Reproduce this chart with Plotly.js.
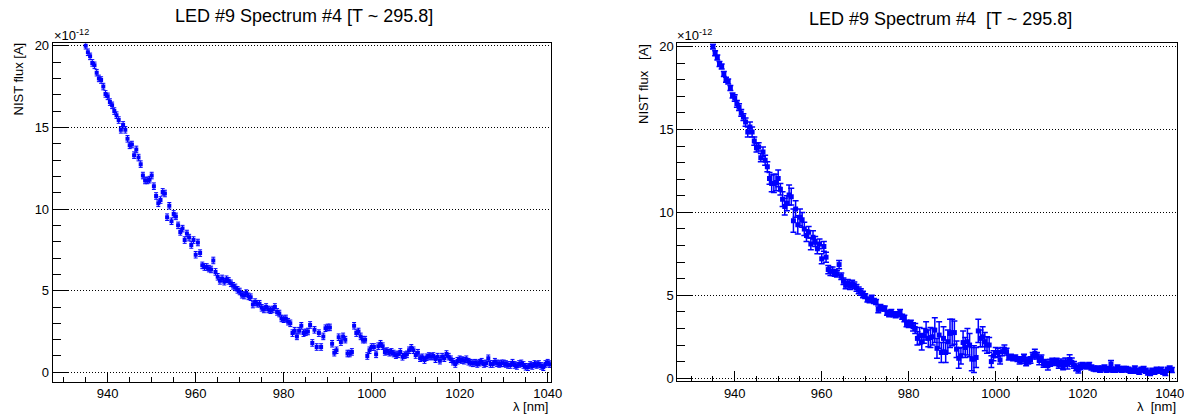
<!DOCTYPE html>
<html>
<head>
<meta charset="utf-8">
<script src="https://cdn.plot.ly/plotly-3.0.1.min.js"></script>
<style>html,body{margin:0;padding:0;background:#fff;}#chart{width:1184px;height:415px;}</style>
</head>
<body>
<div id="chart"></div>
<script>
// wavelength grid [nm]
const wavelength = [
 935.0,935.5,936.0,936.5,937.0,937.5,938.0,938.5,939.0,939.5,
 940.0,940.5,941.0,941.5,942.0,942.5,943.0,943.5,944.0,944.5,
 945.0,945.5,946.0,946.5,947.0,947.5,948.0,948.5,949.0,949.5,
 950.0,950.5,951.0,951.5,952.0,952.5,953.0,953.5,954.0,954.5,
 955.0,955.5,956.0,956.5,957.0,957.5,958.0,958.5,959.0,959.5,
 960.0,960.5,961.0,961.5,962.0,962.5,963.0,963.5,964.0,964.5,
 965.0,965.5,966.0,966.5,967.0,967.5,968.0,968.5,969.0,969.5,
 970.0,970.5,971.0,971.5,972.0,972.5,973.0,973.5,974.0,974.5,
 975.0,975.5,976.0,976.5,977.0,977.5,978.0,978.5,979.0,979.5,
 980.0,980.5,981.0,981.5,982.0,982.5,983.0,983.5,984.0,984.5,
 985.0,985.5,986.0,986.5,987.0,987.5,988.0,988.5,989.0,989.5,
 990.0,990.5,991.0,991.5,992.0,992.5,993.0,993.5,994.0,994.5,
 995.0,995.5,996.0,996.5,997.0,997.5,998.0,998.5,999.0,999.5,
 1000.0,1000.5,1001.0,1001.5,1002.0,1002.5,1003.0,1003.5,1004.0,1004.5,
 1005.0,1005.5,1006.0,1006.5,1007.0,1007.5,1008.0,1008.5,1009.0,1009.5,
 1010.0,1010.5,1011.0,1011.5,1012.0,1012.5,1013.0,1013.5,1014.0,1014.5,
 1015.0,1015.5,1016.0,1016.5,1017.0,1017.5,1018.0,1018.5,1019.0,1019.5,
 1020.0,1020.5,1021.0,1021.5,1022.0,1022.5,1023.0,1023.5,1024.0,1024.5,
 1025.0,1025.5,1026.0,1026.5,1027.0,1027.5,1028.0,1028.5,1029.0,1029.5,
 1030.0,1030.5,1031.0,1031.5,1032.0,1032.5,1033.0,1033.5,1034.0,1034.5,
 1035.0,1035.5,1036.0,1036.5,1037.0,1037.5,1038.0,1038.5,1039.0,1039.5,
 1040.0,1040.5
];

// NIST flux [A], in units of 1e-12
const flux = [
 20.0,19.6,19.35,18.95,18.8,18.35,18.0,17.9,17.5,17.05,
 16.9,16.55,16.35,16.0,15.75,15.45,14.85,15.15,14.85,14.3,
 13.9,13.95,13.3,13.65,13.15,12.75,12.05,11.75,11.75,11.8,
 12.05,11.4,10.8,10.35,10.55,11.05,10.95,9.5,10.2,9.25,
 9.7,9.55,9.0,8.6,8.8,8.1,8.5,8.25,7.8,8.1,
 7.2,7.95,7.3,6.55,6.45,6.45,6.35,6.3,6.85,6.15,
 5.85,5.6,5.75,5.55,5.7,5.6,5.45,5.3,5.2,5.05,
 4.95,4.75,4.7,4.85,4.65,4.6,4.15,4.3,4.2,4.2,
 3.95,3.85,4.0,3.85,3.8,3.85,4.0,3.7,3.6,3.3,
 3.25,3.3,3.1,3.0,2.4,2.55,2.2,2.55,2.85,2.4,
 2.45,2.5,2.9,1.8,2.6,1.55,2.4,1.55,2.2,2.7,
 2.75,2.75,1.75,1.2,1.35,2.15,1.85,2.2,2.0,1.15,
 1.15,1.25,2.85,2.4,2.5,2.2,2.0,2.0,1.0,1.35,
 1.55,1.55,1.1,1.6,1.75,1.6,1.25,1.3,1.2,1.25,
 1.15,1.05,1.1,1.25,0.95,1.05,1.1,1.35,1.5,1.35,
 1.06,1.20,0.86,0.92,0.75,0.92,1.0,0.96,1.0,0.80,
 0.96,0.71,0.96,0.86,1.12,0.96,0.80,0.65,0.51,0.71,
 0.80,0.75,0.71,0.80,0.65,0.59,0.55,0.59,0.51,0.59,
 0.65,0.51,0.55,0.86,0.51,0.51,0.65,0.55,0.51,0.55,
 0.55,0.51,0.45,0.45,0.59,0.45,0.39,0.51,0.55,0.45,
 0.34,0.31,0.45,0.39,0.51,0.45,0.51,0.39,0.31,0.51,
 0.59,0.5
];

// statistical error (left panel), 1e-12 A
const errStat = 0.2;

// total error (right panel), 1e-12 A
const errTotal = [
 0.15,0.15,0.15,0.15,0.15,0.15,0.15,0.15,0.15,0.15,
 0.2,0.2,0.2,0.2,0.2,0.25,0.3,0.3,0.3,0.25,
 0.25,0.25,0.25,0.3,0.3,0.3,0.35,0.5,0.55,0.5,
 0.5,0.35,0.45,0.5,0.45,0.6,0.5,0.7,0.5,0.55,
 0.5,0.45,0.4,0.35,0.35,0.35,0.4,0.3,0.3,0.3,
 0.3,0.3,0.3,0.25,0.25,0.25,0.2,0.2,0.25,0.2,
 0.2,0.2,0.2,0.2,0.2,0.2,0.2,0.2,0.2,0.2,
 0.15,0.15,0.15,0.15,0.15,0.15,0.2,0.15,0.15,0.15,
 0.15,0.15,0.15,0.15,0.15,0.15,0.15,0.15,0.2,0.2,
 0.2,0.2,0.25,0.3,0.4,0.5,0.5,0.45,0.55,0.5,
 0.6,0.5,0.75,0.6,0.8,0.6,0.7,0.6,0.7,0.85,
 0.8,0.7,0.5,0.6,0.5,0.7,0.6,0.8,0.7,0.7,
 0.8,0.6,0.7,0.5,0.6,0.55,0.5,0.45,0.35,0.3,
 0.3,0.25,0.25,0.25,0.25,0.2,0.15,0.15,0.15,0.15,
 0.15,0.2,0.2,0.2,0.2,0.2,0.2,0.2,0.25,0.2,
 0.25,0.2,0.2,0.2,0.25,0.2,0.2,0.2,0.2,0.2,
 0.2,0.2,0.25,0.3,0.3,0.25,0.2,0.2,0.2,0.2,
 0.15,0.15,0.15,0.15,0.15,0.15,0.15,0.15,0.15,0.15,
 0.15,0.15,0.15,0.2,0.15,0.15,0.15,0.15,0.15,0.15,
 0.15,0.15,0.15,0.15,0.15,0.15,0.15,0.15,0.15,0.15,
 0.15,0.15,0.15,0.15,0.15,0.15,0.15,0.15,0.15,0.15,
 0.15,0.15
];

const titleLeft = 'LED #9 Spectrum #4 [T ~ 295.8]';
const titleRight = 'LED #9 Spectrum #4  [T ~ 295.8]';
const yTitleLeft = 'NIST flux [A]';
const yTitleRight = 'NIST flux   [A]';
const xTitleLeft = 'λ [nm]';
const xTitleRight = 'λ  [nm]';
const exponentLabel = '×10<sup>-12</sup>';

const FONT = 'Liberation Sans, Arial, Helvetica, sans-serif';
const BLUE = '#0000ff';

const traces = [
  {
    x: wavelength, y: flux, type: 'scatter', mode: 'markers',
    xaxis: 'x', yaxis: 'y',
    marker: {symbol: 'square', size: 4, color: BLUE},
    error_y: {type: 'constant', value: errStat, color: BLUE, thickness: 1, width: 2},
    hoverinfo: 'x+y'
  },
  {
    x: wavelength, y: flux, type: 'scatter', mode: 'markers',
    xaxis: 'x2', yaxis: 'y2',
    marker: {symbol: 'square', size: 5, color: BLUE},
    error_y: {type: 'data', array: errTotal, color: BLUE, thickness: 1.5, width: 3},
    hoverinfo: 'x+y'
  }
];

function xAxis(domain, range, anchor) {
  return {
    domain: domain, range: range, anchor: anchor,
    showline: true, mirror: true, linecolor: '#000', linewidth: 1,
    ticks: 'inside', ticklen: 10, tickwidth: 1, tickcolor: '#000',
    tickvals: [940, 960, 980, 1000, 1020, 1040],
    ticklabeloverflow: 'allow',
    minor: {dtick: 5, tick0: 930, ticks: 'inside', ticklen: 5, tickcolor: '#000', tickwidth: 1, showgrid: false},
    showgrid: false, zeroline: false,
    tickfont: {family: FONT, size: 13, color: '#000'}
  };
}
function yAxis(domain, range, anchor) {
  return {
    domain: domain, range: range, anchor: anchor,
    showline: true, mirror: true, linecolor: '#000', linewidth: 1,
    ticks: 'inside', ticklen: 15, tickwidth: 1, tickcolor: '#000',
    tickvals: [0, 5, 10, 15, 20],
    ticklabeloverflow: 'allow',
    minor: {dtick: 1, tick0: 0, ticks: 'inside', ticklen: 8, tickcolor: '#000', tickwidth: 1, showgrid: false},
    showgrid: true, gridcolor: '#000', gridwidth: 1, griddash: '1px,2px',
    zeroline: false,
    tickfont: {family: FONT, size: 13, color: '#000'}
  };
}

const W = 1184, H = 415;
const px = v => v / W;
const py = v => (H - v) / H;

const layout = {
  width: W, height: H,
  margin: {l: 0, r: 0, t: 0, b: 0},
  paper_bgcolor: '#fff', plot_bgcolor: '#fff',
  showlegend: false,
  xaxis: xAxis([px(52.7), px(551)], [927.5, 1040.75], 'y'),
  yaxis: yAxis([py(381.7), py(43.3)], [-0.575, 20.15], 'x'),
  xaxis2: xAxis([px(677.3), px(1177.3)], [926.8, 1041.75], 'y2'),
  yaxis2: yAxis([py(381), py(43.3)], [-0.17, 20.2], 'x2'),
  annotations: [
    {text: titleLeft, x: px(303.5), y: py(16), xref: 'paper', yref: 'paper', xanchor: 'center', yanchor: 'middle', showarrow: false, font: {family: FONT, size: 18, color: '#000'}},
    {text: titleRight, x: px(940), y: py(19), xref: 'paper', yref: 'paper', xanchor: 'center', yanchor: 'middle', showarrow: false, font: {family: FONT, size: 18, color: '#000'}},
    {text: yTitleLeft, x: px(18), y: py(79.5), xref: 'paper', yref: 'paper', xanchor: 'center', yanchor: 'middle', textangle: -90, showarrow: false, font: {family: FONT, size: 13, color: '#000'}},
    {text: yTitleRight, x: px(643), y: py(84), xref: 'paper', yref: 'paper', xanchor: 'center', yanchor: 'middle', textangle: -90, showarrow: false, font: {family: FONT, size: 13, color: '#000'}},
    {text: xTitleLeft, x: px(550), y: py(406), xref: 'paper', yref: 'paper', xanchor: 'right', yanchor: 'middle', showarrow: false, font: {family: FONT, size: 13, color: '#000'}},
    {text: xTitleRight, x: px(1178), y: py(406), xref: 'paper', yref: 'paper', xanchor: 'right', yanchor: 'middle', showarrow: false, font: {family: FONT, size: 13, color: '#000'}},
    {text: exponentLabel, x: px(52), y: py(45), xref: 'paper', yref: 'paper', xanchor: 'left', yanchor: 'bottom', showarrow: false, font: {family: FONT, size: 13, color: '#000'}},
    {text: exponentLabel, x: px(675), y: py(45), xref: 'paper', yref: 'paper', xanchor: 'left', yanchor: 'bottom', showarrow: false, font: {family: FONT, size: 13, color: '#000'}}
  ]
};

Plotly.newPlot('chart', traces, layout, {staticPlot: true, displayModeBar: false});
</script>
</body>
</html>
